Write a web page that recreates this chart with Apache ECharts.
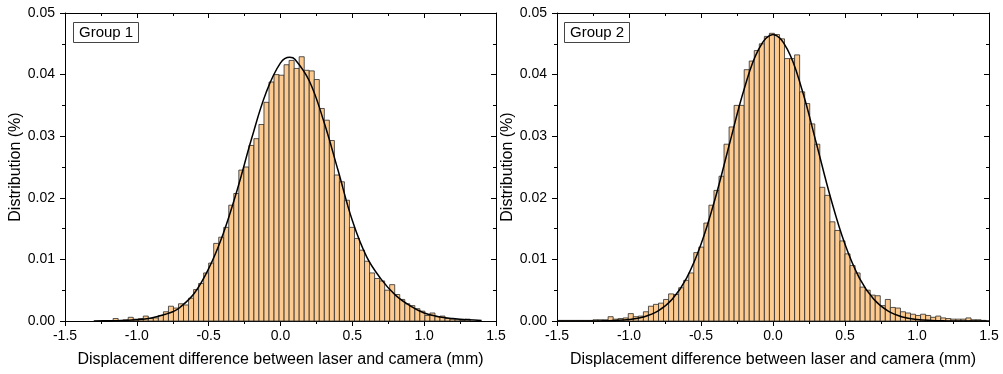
<!DOCTYPE html>
<html>
<head>
<meta charset="utf-8">
<title>Displacement difference histograms</title>
<script src="https://cdn.jsdelivr.net/npm/echarts@6/dist/echarts.min.js"></script>
<style>
  html, body { margin: 0; padding: 0; background: #fff; }
  #chart { width: 1003px; height: 374px; }
</style>
</head>
<body>
<div id="chart"></div>
<script>
// bin width (mm), shared by both groups
var binWidth = 0.035;

// Group 1: first bin left edge, then one value per bin
var group1Start = -1.165;
var group1Values = [
  0.0004, 0.0001, 0.0002, 0.0006, 0.0003, 0.0004, 0.0008, 0.0004, 0.0005, 0.0009,
  0.0015, 0.0024, 0.0021, 0.0028, 0.0026, 0.0037, 0.0051, 0.0061, 0.0078, 0.0094,
  0.0126, 0.0136, 0.0152, 0.0188, 0.0207, 0.0245, 0.0250, 0.0285, 0.0296, 0.0319,
  0.0355, 0.0388, 0.0400, 0.0399, 0.0416, 0.0423, 0.0410, 0.0429, 0.0407, 0.0406,
  0.0392, 0.0345, 0.0326, 0.0293, 0.0237, 0.0226, 0.0196, 0.0152, 0.0134, 0.0115,
  0.0097, 0.0078, 0.0069, 0.0065, 0.0050, 0.0059, 0.0043, 0.0035, 0.0028, 0.0025,
  0.0020, 0.0016, 0.0009, 0.0013, 0.0007, 0.0008, 0.0004, 0.0003, 0.0002, 0.0001,
  0.0003
];

// Group 2
var group2Start = -1.495;
var group2Values = [
  0.0001, 0.0001, 0.0001, 0.0001, 0.0001, 0.0001, 0.0001, 0.0002, 0.0002, 0.0002,
  0.0007, 0.0003, 0.0004, 0.0005, 0.0012, 0.0007, 0.0008, 0.0015, 0.0024, 0.0027,
  0.0029, 0.0035, 0.0044, 0.0043, 0.0054, 0.0066, 0.0078, 0.0111, 0.0120, 0.0159,
  0.0188, 0.0212, 0.0235, 0.0287, 0.0315, 0.0350, 0.0350, 0.0408, 0.0422, 0.0439,
  0.0450, 0.0462, 0.0467, 0.0465, 0.0458, 0.0426, 0.0426, 0.0432, 0.0372, 0.0353,
  0.0320, 0.0287, 0.0217, 0.0204, 0.0161, 0.0147, 0.0130, 0.0109, 0.0090, 0.0078,
  0.0055, 0.0050, 0.0042, 0.0041, 0.0025, 0.0035, 0.0022, 0.0021, 0.0015, 0.0013,
  0.0011, 0.0009, 0.0011, 0.0009, 0.0006, 0.0008, 0.0005, 0.0004, 0.0003, 0.0003,
  0.0003, 0.0005, 0.0002, 0.0002, 0.0001
];

// fitted curves, points
var fit1X = [-1.3, -1.2, -1.1, -1.0, -0.9, -0.8, -0.75, -0.7, -0.6, -0.5, -0.4, -0.3, -0.2, -0.1, 0.0, 0.065,
  0.1, 0.2, 0.3, 0.4, 0.5, 0.6, 0.7, 0.8, 0.9, 1.0, 1.1, 1.2, 1.3, 1.4];
var fit1Y = [0.00001, 0.00003, 0.00008, 0.0002, 0.0005, 0.0011, 0.0015, 0.0022, 0.0045, 0.0085,
  0.0141, 0.0214, 0.0297, 0.0371, 0.0419, 0.0428, 0.0425, 0.0390, 0.0325, 0.0245,
  0.0163, 0.0104, 0.0068, 0.0042, 0.0025, 0.0013, 0.0007, 0.0004, 0.0002, 0.0001];

var fit2X = [-1.5, -1.4, -1.3, -1.2, -1.1, -1.0, -0.9, -0.8, -0.7, -0.6, -0.5, -0.4, -0.3, -0.2, -0.1, 0.0,
  0.1, 0.2, 0.3, 0.4, 0.5, 0.6, 0.7, 0.8, 0.9, 1.0, 1.1, 1.2, 1.3, 1.4, 1.5];
var fit2Y = [0, 0, 0.000005, 0.00002, 0.00008, 0.00024, 0.00065, 0.00160, 0.00352, 0.00697, 0.01245,
  0.02001, 0.02894, 0.03766, 0.04411, 0.04650, 0.04411, 0.03766, 0.02894, 0.02001, 0.01245,
  0.00697, 0.00352, 0.00160, 0.00065, 0.00024, 0.00008, 0.00002, 0.000005, 0, 0];

var groupNames = ['Group 1', 'Group 2'];
var xTitle = 'Displacement difference between laser and camera (mm)';
var yTitle = 'Distribution (%)';

var font = 'Liberation Sans, Arial, sans-serif';
var barColor = '#FDCB90';

function toBins(start, values) {
  var out = [];
  for (var i = 0; i < values.length; i++) {
    var x0 = start + i * binWidth;
    out.push([x0, x0 + binWidth, values[i]]);
  }
  return out;
}

function toPairs(xs, ys) {
  return xs.map(function (x, i) { return [x, ys[i]]; });
}

// histogram bar drawn through the axis scales
function renderBin(params, api) {
  var p0 = api.coord([api.value(0), api.value(2)]);
  var p1 = api.coord([api.value(1), 0]);
  return {
    type: 'rect',
    shape: { x: p0[0], y: p0[1], width: p1[0] - p0[0], height: p1[1] - p0[1] },
    style: { fill: barColor, stroke: '#2b2b2b', lineWidth: 0.8 },
  };
}

// bottom / left axes carry the labels, top / right only ticks
function makeX(gridIndex, pos) {
  var main = pos === 'bottom';
  return {
    type: 'value', gridIndex: gridIndex, position: pos,
    min: -1.5, max: 1.5, interval: 0.5,
    name: main ? xTitle : '',
    nameLocation: 'middle', nameGap: 31,
    nameTextStyle: { fontSize: 16, color: '#000', fontFamily: font },
    axisLine: { show: true, onZero: false, lineStyle: { color: '#000', width: 1 } },
    axisTick: { show: true, inside: !main, length: 5, lineStyle: { color: '#000' } },
    minorTick: { show: true, splitNumber: 2, length: 3, lineStyle: { color: '#000' } },
    axisLabel: {
      show: main, margin: 8, fontSize: 14, color: '#000', fontFamily: font,
      formatter: function (v) { return v.toFixed(1); },
    },
    splitLine: { show: false },
  };
}

function makeY(gridIndex, pos, gap) {
  var main = pos === 'left';
  return {
    type: 'value', gridIndex: gridIndex, position: pos,
    min: 0, max: 0.05, interval: 0.01,
    name: main ? yTitle : '',
    nameLocation: 'middle', nameGap: gap, nameRotate: 90,
    nameTextStyle: { fontSize: 16, color: '#000', fontFamily: font },
    axisLine: { show: true, onZero: false, lineStyle: { color: '#000', width: 1 } },
    axisTick: { show: true, inside: !main, length: 5, lineStyle: { color: '#000' } },
    minorTick: { show: true, splitNumber: 2, length: 3, lineStyle: { color: '#000' } },
    axisLabel: {
      show: main, margin: 10, fontSize: 14, color: '#000', fontFamily: font,
      formatter: function (v) { return v.toFixed(2); },
    },
    splitLine: { show: false },
  };
}

var chart = echarts.init(document.getElementById('chart'));
var option = {
  animation: false,
  backgroundColor: '#fff',
  title: [
    {
      text: groupNames[0], left: 73, top: 22,
      padding: [3, 6, 3, 6], borderColor: '#444', borderWidth: 1,
      textStyle: { fontSize: 15, fontWeight: 'normal', color: '#000', fontFamily: font },
    },
    {
      text: groupNames[1], left: 564, top: 22,
      padding: [3, 6, 3, 6], borderColor: '#444', borderWidth: 1,
      textStyle: { fontSize: 15, fontWeight: 'normal', color: '#000', fontFamily: font },
    },
  ],
  grid: [
    { left: 65, top: 13, width: 431, height: 308 },
    { left: 557, top: 13, width: 432, height: 308 },
  ],
  xAxis: [makeX(0, 'bottom'), makeX(0, 'top'), makeX(1, 'bottom'), makeX(1, 'top')],
  yAxis: [makeY(0, 'left', 39), makeY(0, 'right', 39), makeY(1, 'left', 38), makeY(1, 'right', 38)],
  series: [
    {
      type: 'custom', xAxisIndex: 0, yAxisIndex: 0,
      renderItem: renderBin, encode: { x: [0, 1], y: 2 },
      data: toBins(group1Start, group1Values),
    },
    {
      type: 'line', xAxisIndex: 0, yAxisIndex: 0,
      data: toPairs(fit1X, fit1Y), smooth: 0.4, symbol: 'none',
      lineStyle: { color: '#000', width: 1.5 }, z: 5,
    },
    {
      type: 'custom', xAxisIndex: 2, yAxisIndex: 2,
      renderItem: renderBin, encode: { x: [0, 1], y: 2 },
      data: toBins(group2Start, group2Values),
    },
    {
      type: 'line', xAxisIndex: 2, yAxisIndex: 2,
      data: toPairs(fit2X, fit2Y), smooth: 0.4, symbol: 'none',
      lineStyle: { color: '#000', width: 1.5 }, z: 5,
    },
  ],
};
chart.setOption(option);
</script>
</body>
</html>
